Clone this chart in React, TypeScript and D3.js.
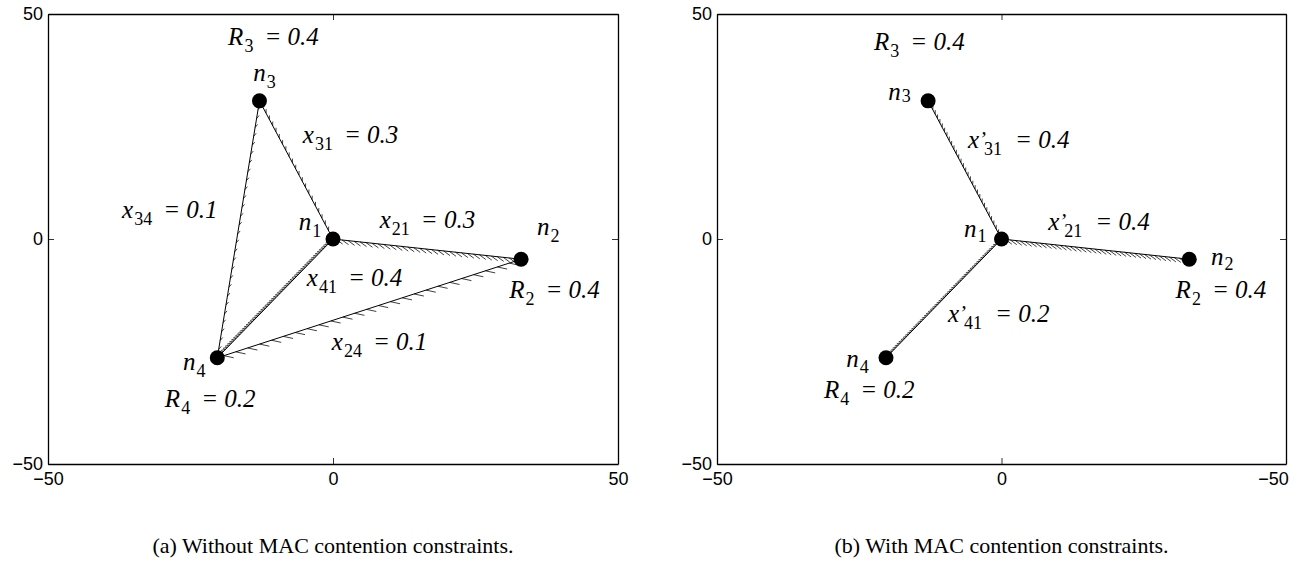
import React, { useEffect, useRef } from 'react';
import * as d3 from 'd3';

// node positions (axis units), identical in both panels
const nodeIds = [1, 2, 3, 4];
const nodeX = [0, 33, -12.9, -20.3];
const nodeY = [0, -4.5, 30.7, -26.4];

// rates R_i
const rateIds = [3, 2, 4];
const rateValues = ['0.4', '0.4', '0.2'];

// flows x_ij, panel (a)
const flowSrcA = [3, 3, 2, 4, 2];
const flowDstA = [1, 4, 1, 1, 4];
const flowValA = ['0.3', '0.1', '0.3', '0.4', '0.1'];

// flows x'_ij, panel (b)
const flowSrcB = [3, 2, 4];
const flowDstB = [1, 1, 1];
const flowValB = ['0.4', '0.4', '0.2'];

// label anchors (axis units)
const nodeLabelA = [[-6.0, 2.0], [35.8, 0.9], [-14.0, 35.2], [-26.3, -29.2]];
const nodeLabelB = [[-6.6, 0.4], [36.8, -5.8], [-19.9, 31.0], [-27.3, -28.5]];
const rateLabelA = [[-18.4, 43.2], [30.9, -13.1], [-29.5, -37.4]];
const rateLabelB = [[-22.4, 42.1], [30.6, -13.1], [-31.2, -35.4]];
const flowLabelA = [[-5.3, 21.4], [-37.0, 4.7], [8.2, 2.4], [-4.6, -10.5], [-0.2, -24.7]];
const flowLabelB = [[-5.9, 20.3], [8.2, 2.0], [-9.4, -18.5]];

const xTicks = [-50, 0, 50];
const yTicks = [-50, 0, 50];
const xTickLabelsA = ['−50', '0', '50'];
const xTickLabelsB = ['−50', '0', '−50'];

const captions = ['(a) Without MAC contention constraints.', '(b) With MAC contention constraints.'];

// hatch look per edge: [spacing px, length px]
const hatchA = [[7, 4], [9, 4], [6, 8], [3, 5], [12.5, 10]];
const hatchB = [[5, 4], [5, 8], [3, 4]];
// how far the node subscripts drop, px
const nodeSubDropA = [7, 7, 7, 7];
const nodeSubDropB = [5, 5, 2, 6];

const SERIF = '"Liberation Serif", "Times New Roman", serif';
const SANS = '"Liberation Sans", Arial, Helvetica, sans-serif';

export default function App() {
  const svgRef = useRef<SVGSVGElement>(null);

  useEffect(() => {
    document.body.style.margin = '0';
    if (!svgRef.current) return;
    const svg = d3.select(svgRef.current);
    svg.selectAll('*').remove();

    const top = 14, bottom = 464;
    const panels = [
      { range: [48, 618], tickLabels: xTickLabelsA, src: flowSrcA, dst: flowDstA, val: flowValA, prime: false,
        nodeLab: nodeLabelA, rateLab: rateLabelA, flowLab: flowLabelA, hatch: hatchA, subDrop: nodeSubDropA,
        caption: captions[0] },
      { range: [717, 1286], tickLabels: xTickLabelsB, src: flowSrcB, dst: flowDstB, val: flowValB, prime: true,
        nodeLab: nodeLabelB, rateLab: rateLabelB, flowLab: flowLabelB, hatch: hatchB, subDrop: nodeSubDropB,
        caption: captions[1] },
    ];

    const y = d3.scaleLinear().domain([-50, 50]).range([bottom, top]);

    panels.forEach((p, pi) => {
      const x = d3.scaleLinear().domain([-50, 50]).range(p.range);
      const g = svg.append('g');
      const w = p.range[1] - p.range[0];

      // axes box with inward ticks
      const styleAxis = (sel: any) => {
        sel.select('.domain').attr('stroke', '#000').attr('stroke-width', 1.3);
        sel.selectAll('.tick line').attr('stroke', '#000').attr('stroke-width', 0.8);
        sel.selectAll('text').attr('font-family', SANS).attr('font-size', 18).attr('fill', '#000');
      };
      const xAxis = g.append('g').attr('transform', `translate(0,${bottom})`)
        .call(d3.axisBottom(x).tickValues(xTicks).tickSizeInner(-6).tickSizeOuter(0).tickPadding(8)
          .tickFormat((d, i) => p.tickLabels[i]))
        .call(styleAxis);
      // last label of panel (b) is pulled inside the page, as in the figure
      if (pi === 1) xAxis.selectAll('.tick:last-of-type text').attr('dx', -13);
      g.append('g').attr('transform', `translate(0,${top})`)
        .call(d3.axisTop(x).tickValues(xTicks).tickSizeInner(-6).tickSizeOuter(0).tickFormat(() => ''))
        .call(styleAxis);
      g.append('g').attr('transform', `translate(${p.range[0]},0)`)
        .call(d3.axisLeft(y).tickValues(yTicks).tickSizeInner(-6).tickSizeOuter(0).tickPadding(5)
          .tickFormat(d => (d as number) < 0 ? '−' + Math.abs(d as number) : String(d)))
        .call(styleAxis);
      g.append('g').attr('transform', `translate(${p.range[1]},0)`)
        .call(d3.axisRight(y).tickValues(yTicks).tickSizeInner(-6).tickSizeOuter(0).tickFormat(() => ''))
        .call(styleAxis);

      const px = (id: number) => [x(nodeX[id - 1]), y(nodeY[id - 1])];

      // edges with hatching
      p.src.forEach((s, i) => {
        const p0 = px(s), p1 = px(p.dst[i]);
        g.append('line')
          .attr('x1', p0[0]).attr('y1', p0[1]).attr('x2', p1[0]).attr('y2', p1[1])
          .attr('stroke', '#000').attr('stroke-width', 1);
        const dx = p1[0] - p0[0], dy = p1[1] - p0[1];
        const L = Math.hypot(dx, dy);
        const ux = dx / L, uy = dy / L;
        const a = -150 * Math.PI / 180;
        const hx = ux * Math.cos(a) - uy * Math.sin(a);
        const hy = ux * Math.sin(a) + uy * Math.cos(a);
        const [sp, len] = p.hatch[i];
        const path = d3.path();
        for (let t = sp; t < L; t += sp) {
          const bx = p0[0] + ux * t, by = p0[1] + uy * t;
          path.moveTo(bx, by);
          path.lineTo(bx + hx * len, by + hy * len);
        }
        g.append('path').attr('d', path.toString()).attr('fill', 'none')
          .attr('stroke', '#000').attr('stroke-width', 0.75);
      });

      // nodes
      nodeIds.forEach(id => {
        const c = px(id);
        g.append('circle').attr('cx', c[0]).attr('cy', c[1]).attr('r', 7.5).attr('fill', '#000');
      });

      const label = (pos: number[], base: string, sub: string, value: string | null, prime: boolean, drop = 7) => {
        const t = g.append('text')
          .attr('x', x(pos[0])).attr('y', y(pos[1]))
          .attr('font-family', SERIF).attr('font-size', 25).attr('font-style', 'italic').attr('fill', '#000');
        t.append('tspan').text(base);
        if (prime) {
          t.append('tspan').attr('font-size', 21).attr('dy', -2).text('’');
          t.append('tspan').attr('font-size', 18).attr('font-style', 'normal').attr('dx', -2).attr('dy', drop + 2).text(sub);
        } else {
          t.append('tspan').attr('font-size', 18).attr('font-style', 'normal').attr('dx', 1).attr('dy', drop).text(sub);
        }
        if (value) {
          t.append('tspan').attr('dx', prime ? 13 : 11).attr('dy', -drop).text('= ' + value);
        }
      };

      nodeIds.forEach((id, i) => label(p.nodeLab[i], 'n', String(id), null, false, p.subDrop[i]));
      rateIds.forEach((id, i) => label(p.rateLab[i], 'R', String(id), rateValues[i], false));
      p.src.forEach((s, i) => label(p.flowLab[i], 'x', `${s}${p.dst[i]}`, p.val[i], p.prime));

      g.append('text')
        .attr('x', p.range[0] + w / 2).attr('y', 553)
        .attr('text-anchor', 'middle')
        .attr('font-family', SERIF).attr('font-size', 22).attr('fill', '#000')
        .text(p.caption);
    });
  }, []);

  return <svg ref={svgRef} width={1298} height={582} style={{ display: 'block', background: '#fff' }} />;
}
